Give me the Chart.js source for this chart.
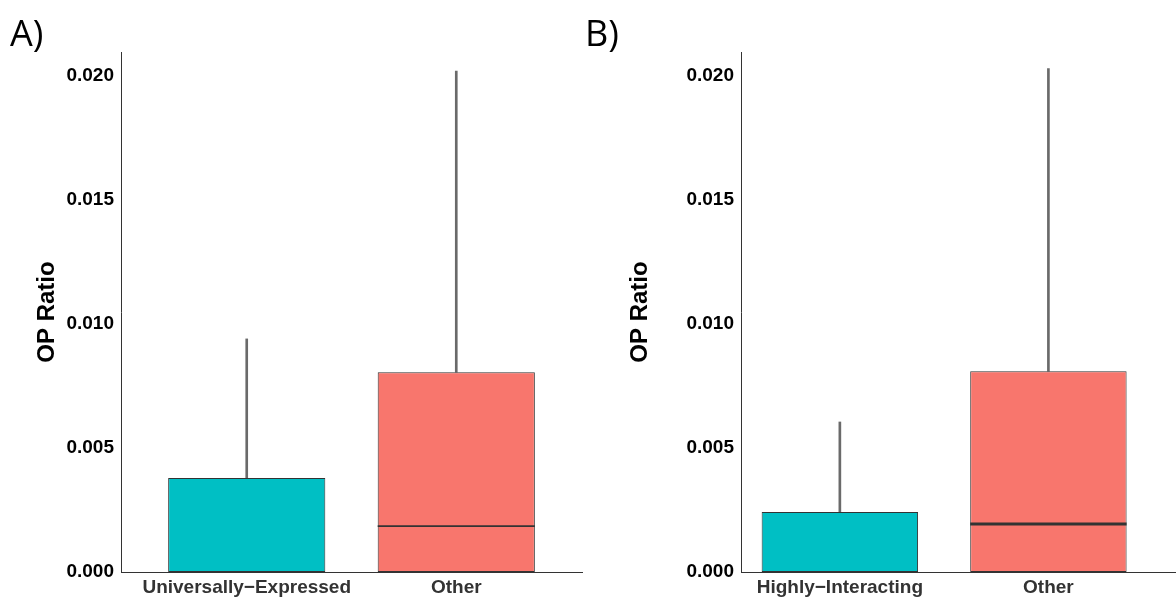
<!DOCTYPE html>
<html>
<head>
<script src="https://cdn.jsdelivr.net/npm/chart.js@4"></script>
<style>
body { margin: 0; background: #fff; width: 1176px; height: 604px; position: relative; overflow: hidden; font-family: "Open Sans", sans-serif; }
.panel { position: absolute; top: 0; height: 604px; }
.tag { position: absolute; top: 8px; font-size: 36px; color: #000; font-family: "Open Sans", sans-serif; }
</style>
</head>
<body>
<div class="panel" style="left:0;width:585px"><canvas id="chartA"></canvas></div>
<div class="panel" style="left:585px;width:591px"><canvas id="chartB"></canvas></div>
<div class="tag" style="left:10px">A)</div>
<div class="tag" style="left:585px">B)</div>
<script>
const labelsA = ['Universally\u2212Expressed', 'Other'];
const q1A = [0, 0];
const medA = [0, 0.00185];
const q3A = [0.00379, 0.00806];
const maxA = [0.0094, 0.0202];

const labelsB = ['Highly\u2212Interacting', 'Other'];
const q1B = [0, 0];
const medB = [0, 0.00194];
const q3B = [0.00242, 0.0081];
const maxB = [0.00605, 0.0203];

const yTicks = [0, 0.005, 0.010, 0.015, 0.020];
const fillColors = ['#00BFC4', '#F8766D'];
const fam = '"Liberation Sans", Arial, sans-serif';

function boxChart(id, labels, q1, med, q3, max, padLeft, axisWidth, padRight, xMin, xMax, medHalf) {
    const pos = labels.map((l, i) => i + 1);
    const data = {
        datasets: [
            {
                data: pos.map((x, i) => ({ x: x, y: [q3[i], max[i]] })),
                backgroundColor: '#6a6a6a',
                barThickness: 2,
                grouped: false,
                order: 3
            },
            {
                data: pos.map((x, i) => ({ x: x, y: [q1[i], q3[i]] })),
                backgroundColor: fillColors,
                borderColor: '#333333',
                borderWidth: 1,
                borderSkipped: false,
                barPercentage: 0.75,
                categoryPercentage: 1,
                grouped: false,
                order: 2
            },
            {
                data: pos.filter((x, i) => med[i] > 0).map(x => ({ x: x, y: [med[x - 1] - medHalf, med[x - 1] + medHalf] })),
                backgroundColor: '#333333',
                barPercentage: 0.75,
                categoryPercentage: 1,
                grouped: false,
                order: 1
            }
        ]
    };

    const config = {
        type: 'bar',
        data: data,
        options: {
            responsive: true,
            maintainAspectRatio: false,
            animation: false,
            layout: { padding: { top: 52, right: padRight, left: padLeft, bottom: 0 } },
            plugins: { legend: { display: false }, tooltip: { enabled: false } },
            scales: {
                x: {
                    type: 'linear',
                    offset: false,
                    min: xMin,
                    max: xMax,
                    grid: { display: false, drawTicks: true, tickLength: 4, tickColor: '#333' },
                    border: { color: '#333', width: 1 },
                    afterBuildTicks: s => { s.ticks = pos.map(v => ({ value: v })); },
                    ticks: { color: '#333', font: { size: 19, weight: 'bold', family: fam }, padding: 0, callback: v => labels[v - 1] },
                    afterFit: s => { s.height = 32; }
                },
                y: {
                    min: 0,
                    max: 0.02097,
                    grid: { display: false, drawTicks: true, tickLength: 4, tickColor: '#333' },
                    border: { color: '#333', width: 1 },
                    afterBuildTicks: s => { s.ticks = yTicks.map(v => ({ value: v })); },
                    ticks: {
                        color: '#000',
                        font: { size: 19, weight: 'bold', family: fam },
                        callback: v => v.toFixed(3)
                    },
                    title: { display: true, text: 'OP Ratio', color: '#000', padding: 0, font: { size: 24, weight: 'bold', family: fam } },
                    afterFit: s => { s.width = axisWidth; }
                }
            }
        }
    };

    new Chart(document.getElementById(id).getContext('2d'), config);
}

boxChart('chartA', labelsA, q1A, medA, q3A, maxA, 33, 88, 3, 0.4, 2.6, 0.00004);
boxChart('chartB', labelsB, q1B, medB, q3B, maxB, 626 - 585, 741 - 626, 1, 0.526, 2.607, 0.00006);
</script>
</body>
</html>
